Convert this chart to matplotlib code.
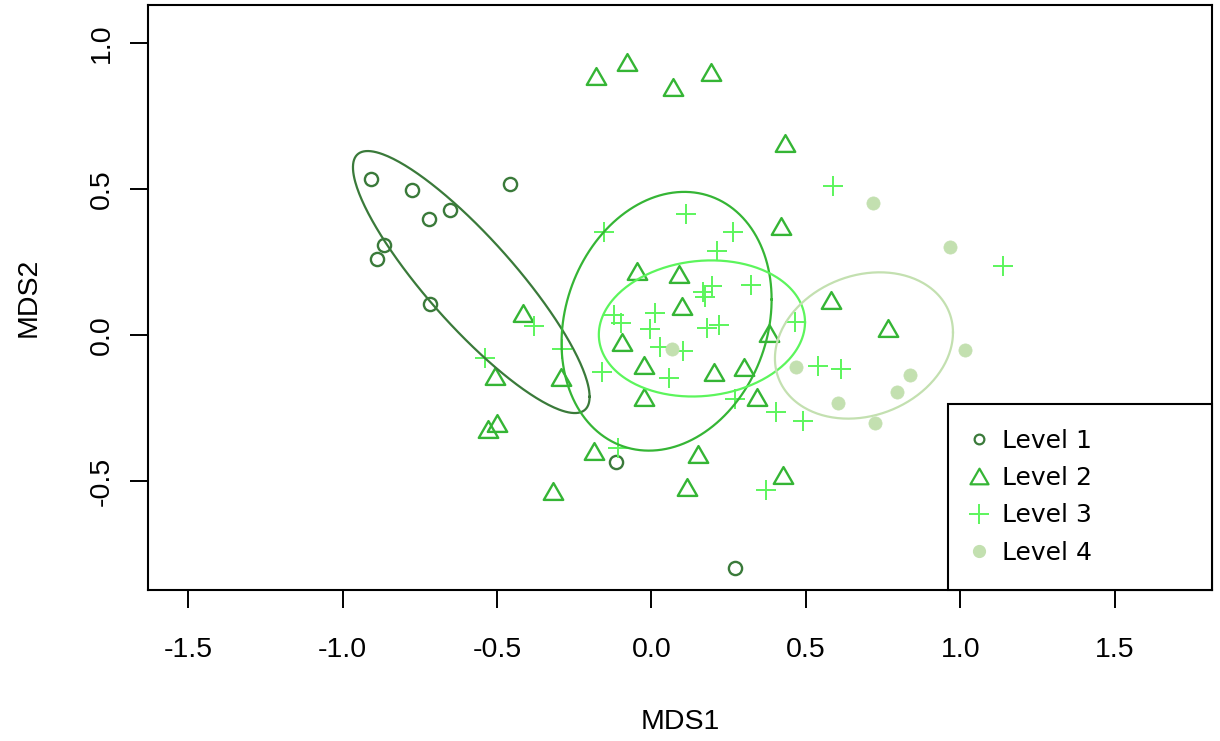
import numpy as np
import matplotlib
matplotlib.use("Agg")
import matplotlib.pyplot as plt
from matplotlib.lines import Line2D
from matplotlib.path import Path

# ---------------- data ----------------
levels = ["Level 1", "Level 2", "Level 3", "Level 4"]

level1_x = [-0.908, -0.776, -0.721, -0.653, -0.458, -0.866, -0.889, -0.717, -0.115, 0.270]
level1_y = [0.534, 0.497, 0.397, 0.428, 0.517, 0.308, 0.260, 0.106, -0.435, -0.798]

level2_x = [-0.180, -0.080, 0.071, 0.194, 0.433, 0.418, -0.047, 0.090, 0.099, -0.096,
            0.380, -0.023, 0.203, 0.299, -0.024, 0.343, 0.150, 0.116, 0.425, -0.415,
            -0.507, -0.294, -0.499, -0.528, -0.186, -0.318, 0.582, 0.767]
level2_y = [0.887, 0.935, 0.848, 0.902, 0.657, 0.373, 0.220, 0.209, 0.099, -0.025,
            0.006, -0.104, -0.128, -0.108, -0.211, -0.213, -0.408, -0.520, -0.479, 0.076,
            -0.140, -0.145, -0.302, -0.323, -0.396, -0.533, 0.120, 0.023]

level3_x = [-0.153, 0.111, 0.263, 0.211, 0.324, 0.168, 0.195, 0.175, -0.121, -0.099,
            0.010, -0.005, 0.179, 0.220, 0.466, 0.028, 0.101, -0.161, 0.058, 0.540,
            0.613, 0.270, 0.403, 0.492, -0.108, 0.370, -0.380, -0.539, -0.291, 0.589,
            1.139]
level3_y = [0.352, 0.415, 0.352, 0.289, 0.170, 0.148, 0.168, 0.129, 0.070, 0.040,
            0.076, 0.020, 0.025, 0.034, 0.046, -0.040, -0.054, -0.126, -0.148, -0.106,
            -0.118, -0.220, -0.263, -0.295, -0.386, -0.531, 0.031, -0.078, -0.049, 0.510,
            0.237]

level4_x = [0.065, 0.468, 0.718, 0.967, 1.015, 0.837, 0.796, 0.603, 0.724]
level4_y = [-0.049, -0.108, 0.451, 0.302, -0.051, -0.137, -0.196, -0.232, -0.302]

x_ticks = [-1.5, -1.0, -0.5, 0.0, 0.5, 1.0, 1.5]
y_ticks = [-0.5, 0.0, 0.5, 1.0]

# ---------------- style ----------------
colors = ["#3A7A3A", "#35B535", "#5CF55C", "#C3E0B0"]
tri = Path([(-1, -0.866), (1, -0.866), (0, 0.866), (-1, -0.866)],
           [Path.MOVETO, Path.LINETO, Path.LINETO, Path.CLOSEPOLY])
TICK_FONT = "Liberation Sans"

fig = plt.figure(figsize=(12.2, 7.41), dpi=100)
ax = fig.add_axes([148 / 1220, 1 - 590 / 741, (1212 - 148) / 1220, (590 - 5) / 741])


def sd_ellipse(x, y, n=300):
    X = np.column_stack([x, y])
    c = X.mean(axis=0)
    cov = np.cov(X.T)
    Q = np.linalg.cholesky(cov).T
    t = np.linspace(0, 2 * np.pi, n)
    pts = np.column_stack([np.cos(t), np.sin(t)]) @ Q + c
    return pts[:, 0], pts[:, 1]


# points
ax.plot(level1_x, level1_y, linestyle="none", marker="o", markersize=9.5,
        markerfacecolor="none", markeredgecolor=colors[0], markeredgewidth=1.7)
ax.plot(level2_x, level2_y, linestyle="none", marker=tri, markersize=14,
        markerfacecolor="none", markeredgecolor=colors[1], markeredgewidth=1.7)
ax.plot(level3_x, level3_y, linestyle="none", marker="+", markersize=15,
        markeredgecolor=colors[2], markeredgewidth=1.4)
ax.plot(level4_x, level4_y, linestyle="none", marker="o", markersize=9.5,
        markerfacecolor=colors[3], markeredgecolor=colors[3], markeredgewidth=0.5)

# SD ellipses
for xs, ys, col in [(level1_x, level1_y, colors[0]), (level2_x, level2_y, colors[1]),
                    (level3_x, level3_y, colors[2]), (level4_x, level4_y, colors[3])]:
    ex, ey = sd_ellipse(xs, ys)
    ax.plot(ex, ey, color=col, linewidth=1.6)

ax.set_xlim(-1.630, 1.815)
ax.set_ylim(-0.873, 1.130)
ax.set_xticks(x_ticks)
ax.set_xticklabels([f"{v:.1f}" for v in x_ticks], fontfamily=TICK_FONT, fontsize=20.5)
ax.set_yticks(y_ticks)
ax.set_yticklabels([f"{v:.1f}" for v in y_ticks], fontfamily=TICK_FONT, fontsize=20.5,
                   rotation=90, va="center")
ax.tick_params(axis="both", direction="out", length=13, width=1.4, colors="black")
ax.tick_params(axis="x", pad=21)
ax.tick_params(axis="y", pad=11)
for s in ax.spines.values():
    s.set_linewidth(1.5)

ax.set_xlabel("MDS1", fontfamily=TICK_FONT, fontsize=20.5, labelpad=33)
ax.set_ylabel("MDS2", fontfamily=TICK_FONT, fontsize=20.5, labelpad=34)

# legend
handles = [
    Line2D([], [], linestyle="none", marker="o", markersize=7, markerfacecolor="none",
           markeredgecolor=colors[0], markeredgewidth=1.6),
    Line2D([], [], linestyle="none", marker=tri, markersize=13, markerfacecolor="none",
           markeredgecolor=colors[1], markeredgewidth=1.6),
    Line2D([], [], linestyle="none", marker="+", markersize=15,
           markeredgecolor=colors[2], markeredgewidth=1.4),
    Line2D([], [], linestyle="none", marker="o", markersize=8.5,
           markerfacecolor=colors[3], markeredgecolor=colors[3]),
]
x0 = (948 - 148) / 1064
leg = ax.legend(handles, levels, loc="lower left", bbox_to_anchor=(x0, 0, 1 - x0, 0.3),
                mode="expand", borderaxespad=0, fancybox=False, framealpha=1,
                edgecolor="black", prop={"family": "DejaVu Sans", "size": 18},
                borderpad=1.0, labelspacing=0.54, handlelength=0.45, handletextpad=0.7)
leg.get_frame().set_linewidth(1.5)

fig.savefig("out.png", dpi=100)
